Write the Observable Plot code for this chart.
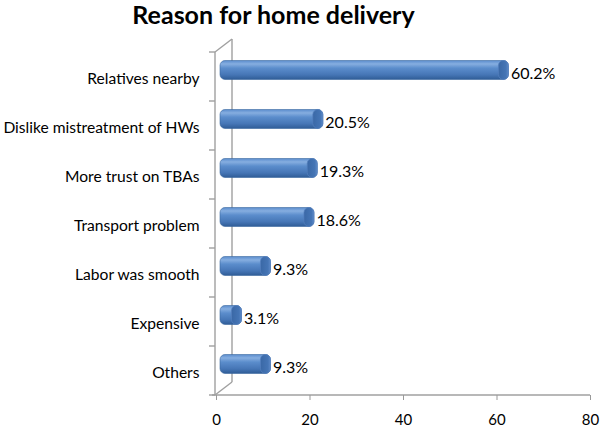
<!DOCTYPE html>
<html>
<head>
<meta charset="utf-8">
<script src="https://cdn.jsdelivr.net/npm/d3@7"></script>
<script src="https://cdn.jsdelivr.net/npm/@observablehq/plot@0.6"></script>
<style>
  body { margin: 0; background: #fff; font-family: Lato, "Open Sans", sans-serif; }
  #title { height: 36px; width: 547px; text-align: center; font-weight: bold; font-size: 25px; line-height: 29px; color: #000; }
</style>
</head>
<body>
<div id="title">Reason for home delivery</div>
<div id="chart"></div>
<script>
const reasons = ["Relatives nearby", "Dislike mistreatment of HWs", "More trust on TBAs", "Transport problem", "Labor was smooth", "Expensive", "Others"];
const percents = [60.2, 20.5, 19.3, 18.6, 9.3, 3.1, 9.3];
const xTicks = [0, 20, 40, 60, 80];

const data = reasons.map((r, i) => ({reason: r, value: percents[i]}));

const plot = Plot.plot({
  width: 600,
  height: 394,
  marginLeft: 216,
  marginRight: 10,
  marginTop: 15,
  marginBottom: 35,
  style: {fontFamily: "Lato, 'Open Sans', sans-serif", fontSize: "16px", color: "#000", background: "#fff"},
  x: {domain: [0, 80]},
  y: {domain: reasons, padding: 0},
  marks: [
    Plot.axisX({ticks: xTicks, tickSize: 5, tickPadding: 14, stroke: "#999", fill: "#000", fontSize: 15, label: null}),
    Plot.axisY({tickSize: 0, tickPadding: 17, dy: 2, fill: "#000", fontSize: 15.6, label: null}),
    Plot.barX(data, {x1: 0, x2: "value", y: "reason", fill: "url(#barGrad)", stroke: "#3b68a0", strokeWidth: 0.6,
      rx: 5, insetTop: 15, insetBottom: 15, insetLeft: -3, insetRight: -4, dx: 7, dy: -6.5}),
    Plot.barX(data, {x1: "value", x2: "value", y: "reason", fill: "url(#capGrad)", stroke: "#5480bd", strokeWidth: 0.7,
      rx: 5, insetTop: 15, insetBottom: 15, insetLeft: -6, insetRight: -4, dx: 7, dy: -6.5}),
    Plot.text(data, {x: "value", y: "reason", text: d => d.value.toFixed(1) + "%", textAnchor: "start", dx: 13, dy: -3.5, fill: "#000", fontSize: 16})
  ]
});

document.getElementById("chart").appendChild(plot);

// gradients
const svg = d3.select(plot);
const defs = svg.insert("defs", ":first-child");
const g1 = defs.append("linearGradient").attr("id", "barGrad").attr("x1", 0).attr("y1", 0).attr("x2", 0).attr("y2", 1);
[["0%", "#5a8ccd"], ["18%", "#86aee0"], ["40%", "#5b8dcc"], ["75%", "#4676b6"], ["100%", "#2f5c96"]]
  .forEach(([o, c]) => g1.append("stop").attr("offset", o).attr("stop-color", c));
const g2 = defs.append("linearGradient").attr("id", "capGrad").attr("x1", 0).attr("y1", 0).attr("x2", 1).attr("y2", 0);
[["0%", "#3a68a6"], ["75%", "#4575b5"], ["100%", "#5f8bc8"]]
  .forEach(([o, c]) => g2.append("stop").attr("offset", o).attr("stop-color", c));

// 3D wall, axis lines and y ticks, built from the plot's own scales
const xs = plot.scale("x"), ys = plot.scale("y");
const x0 = xs.apply(0) - 1;
const yTop = ys.apply(reasons[0]);
const yBot = ys.apply(reasons[reasons.length - 1]) + ys.bandwidth;
const ddx = 17, ddy = 13;
const wall = svg.insert("g", "defs + *").attr("stroke", "#a0a0a0").attr("stroke-width", 1.4).attr("fill", "none");
wall.append("line").attr("x1", x0).attr("y1", yTop).attr("x2", x0).attr("y2", yBot);
wall.append("line").attr("x1", x0 + ddx).attr("y1", yTop - ddy).attr("x2", x0 + ddx).attr("y2", yBot - ddy);
wall.append("line").attr("x1", x0).attr("y1", yTop).attr("x2", x0 + ddx).attr("y2", yTop - ddy);
wall.append("line").attr("x1", x0).attr("y1", yBot).attr("x2", x0 + ddx).attr("y2", yBot - ddy);
wall.append("line").attr("x1", x0 - 3).attr("y1", yBot).attr("x2", xs.apply(80)).attr("y2", yBot);
const bounds = reasons.map(r => ys.apply(r)).concat([yBot]);
bounds.forEach(b => wall.append("line").attr("x1", x0 - 6).attr("y1", b).attr("x2", x0).attr("y2", b));
</script>
</body>
</html>
